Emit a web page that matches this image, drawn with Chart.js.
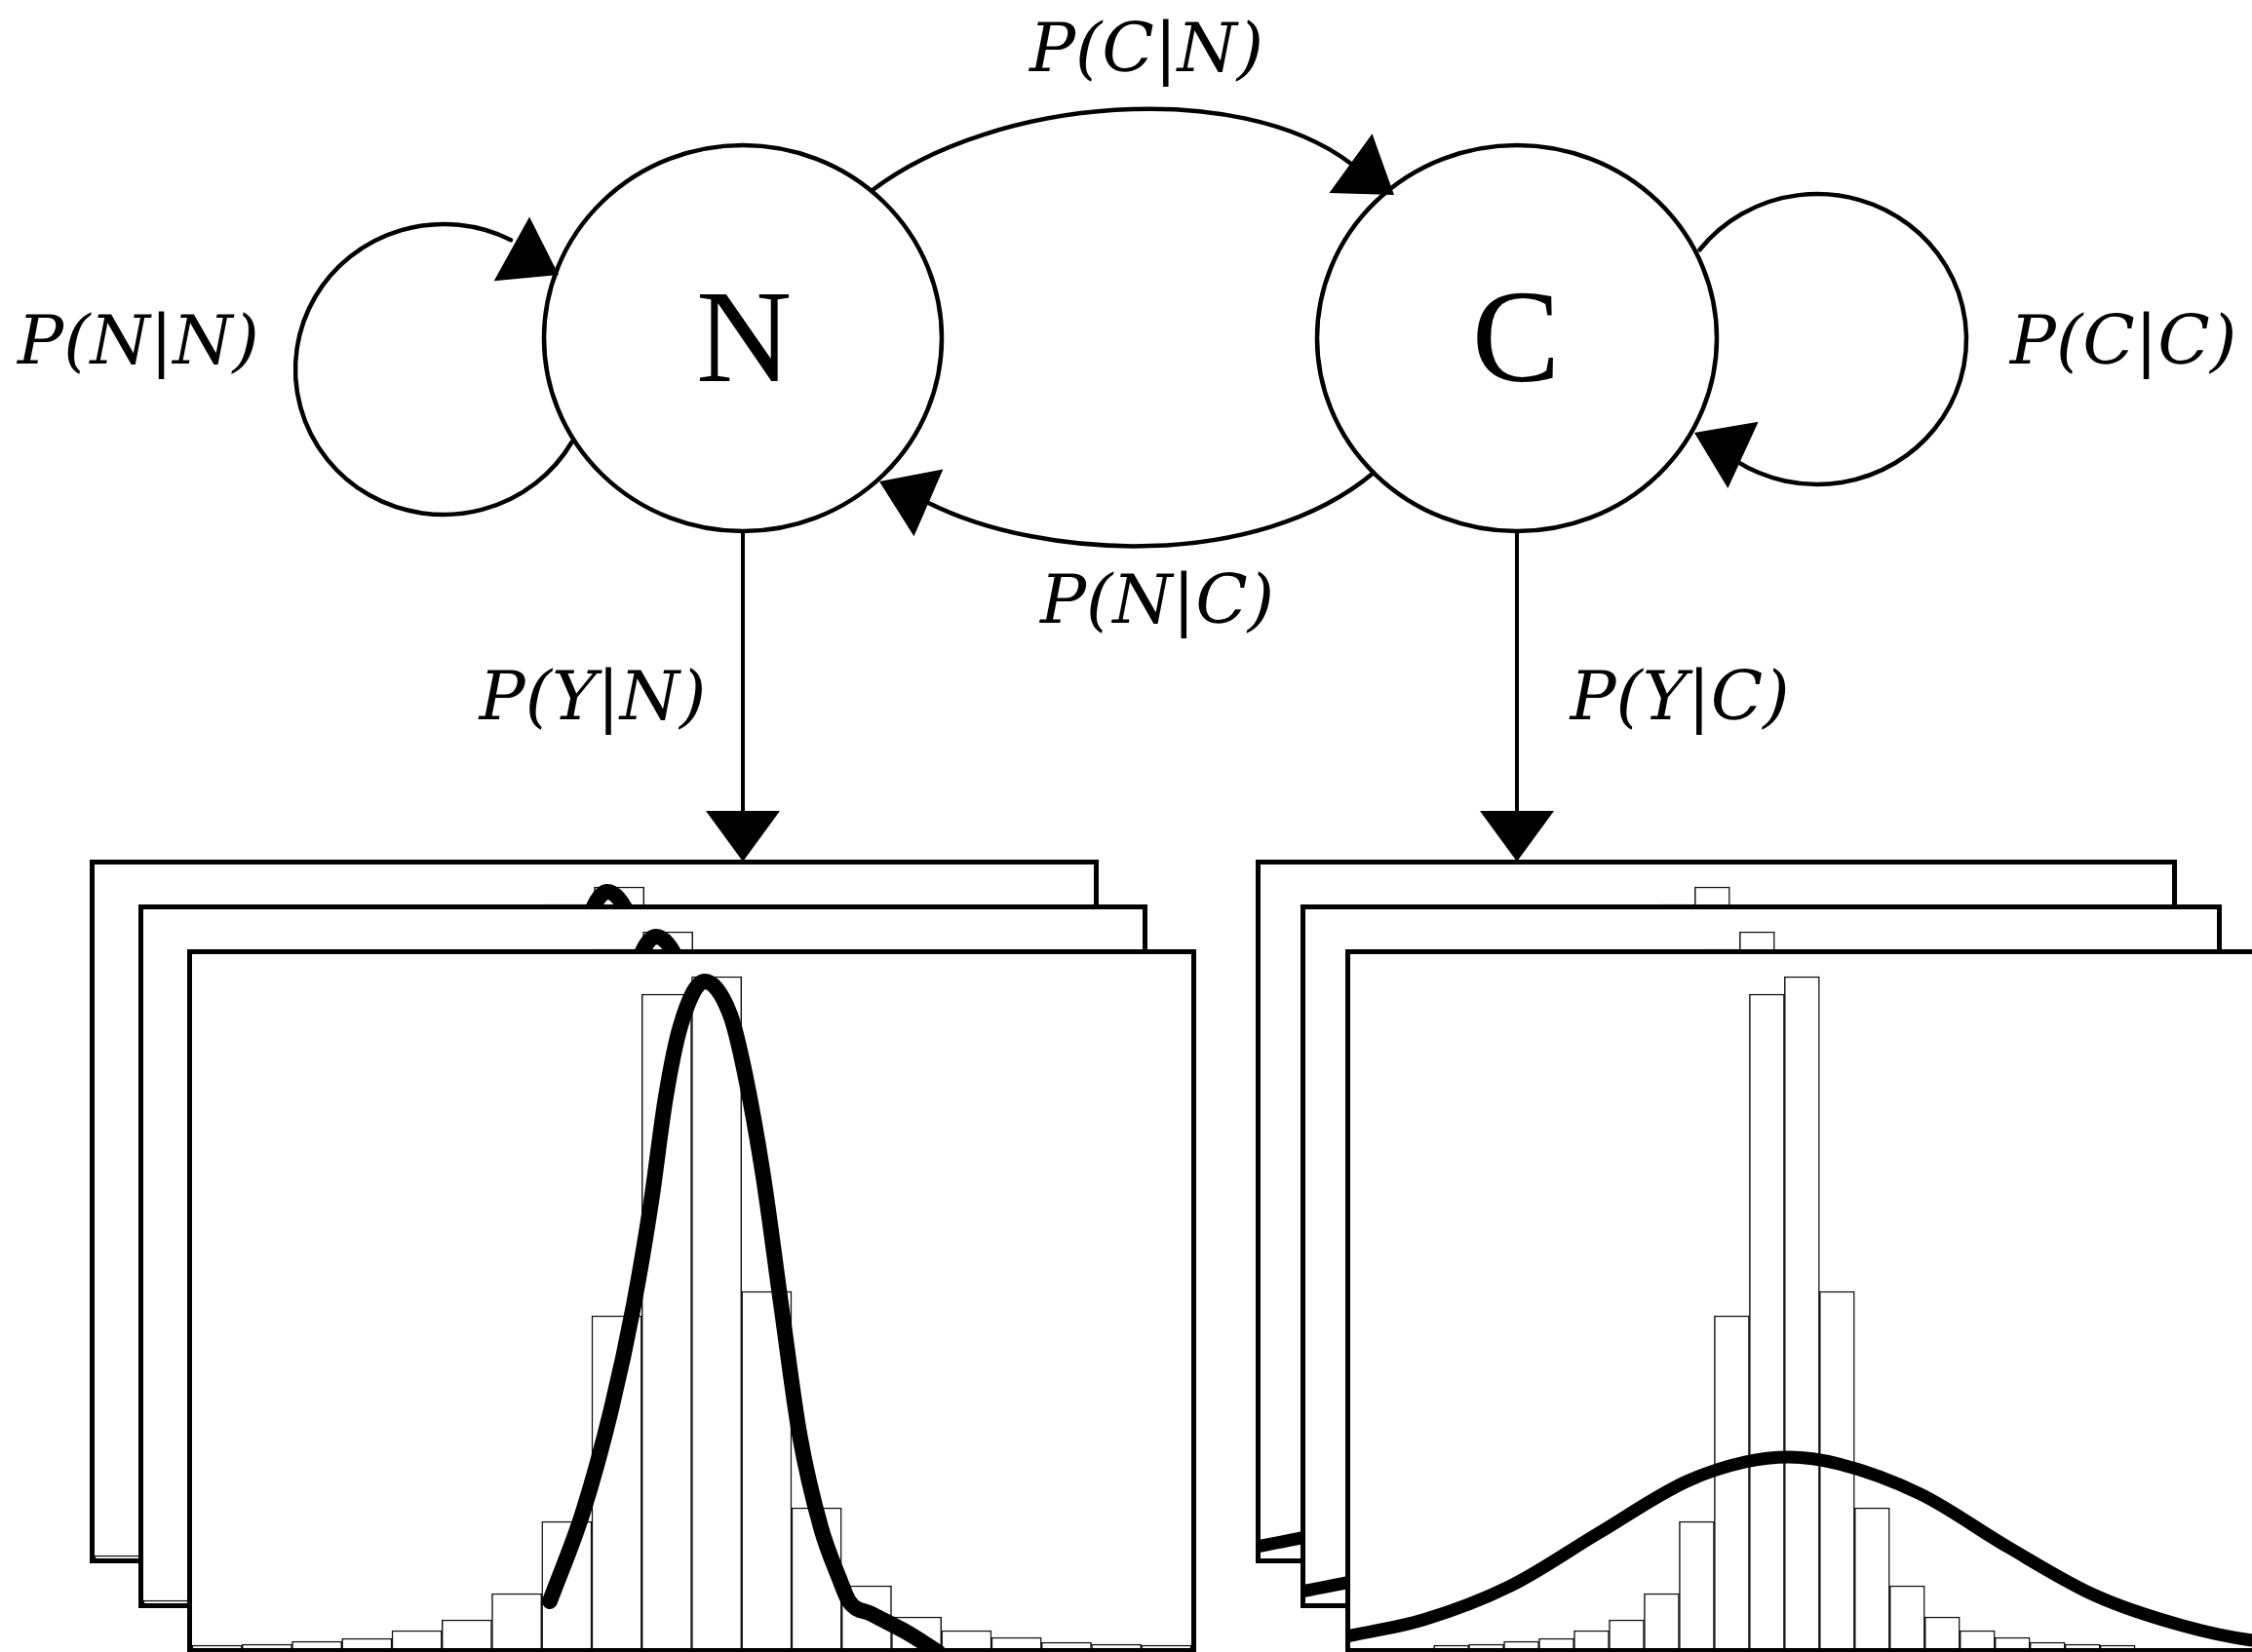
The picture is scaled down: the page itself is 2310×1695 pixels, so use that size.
<!DOCTYPE html>
<html>
<head>
<meta charset="utf-8">
<script src="https://cdn.jsdelivr.net/npm/chart.js@4.4.1/dist/chart.umd.min.js"></script>
<style>
html,body{margin:0;padding:0;background:#fff;overflow:hidden;}
#stage{position:relative;width:2310px;height:1695px;overflow:hidden;background:#fff;}
#diagram{position:absolute;left:0;top:0;}
.panel{position:absolute;box-sizing:border-box;border:5px solid #000;background:#fff;}
.panel canvas{display:block;}
</style>
</head>
<body>
<div id="stage"><canvas id="diagram" width="2310" height="1695"></canvas></div>
<script>
// ---------------- DATA ----------------
// Hidden states and probability labels
const stateLabels = ['N', 'C'];
const transitionLabels = ['P(N|N)', 'P(C|N)', 'P(N|C)', 'P(C|C)'];
const emissionLabels = ['P(Y|N)', 'P(Y|C)'];

// Histogram of observations Y (bin centres, in bin units) and bar heights
const binCenters = [0.5, 1.5, 2.5, 3.5, 4.5, 5.5, 6.5, 7.5, 8.5, 9.5,
                    10.5, 11.5, 12.5, 13.5, 14.5, 15.5, 16.5, 17.5, 18.5, 19.5];
const binCounts  = [3, 4, 7, 10, 18, 29, 56, 130, 341, 671,
                    689, 366, 144, 64, 32, 18, 11, 6, 4, 3];

// Fitted emission density for state N
const fitNX = [7.16, 7.82, 8.39, 8.84, 9.19, 9.48, 9.78, 10.26, 10.77, 11.06, 11.43, 11.79, 12.16, 12.59, 12.95, 13.15, 13.6, 14.31, 14.93];
const fitNY = [48, 139, 245, 352, 458, 565, 639, 684, 650, 591, 485, 352, 219, 123, 72, 48, 35, 16, -4];

// Fitted emission density for state C
const fitCX = [-2.49, -0.30, 2.20, 4.70, 7.21, 8.88, 10.13, 11.55, 13.88, 16.36, 18.86, 21.36, 23.33, 23.8];
const fitCY = [12, 29, 64, 118, 171, 191, 196, 189, 158, 104, 54, 23, 8, 7];

// Axis ranges of the two histogram panels (bin units / height units)
const xRangeN = [0, 20];
const xRangeC = [-2.38, 23.61];
const yMax = 712;

// ---------------- LAYOUT (positions / styles only) ----------------
const layout = {
  nodes: [
    {cx: 762, cy: 347, rx: 204, ry: 198, tx: 763, ty: 391},
    {cx: 1556, cy: 347, rx: 205, ry: 198, tx: 1555, ty: 391}
  ],
  loops: [
    {cx: 455, cy: 379, rx: 152, ry: 149, a0: 30, a1: 297, tip: [573, 282], dir: 29},
    {cx: 1864, cy: 348, rx: 153, ry: 149, a0: 218, a1: 483, tip: [1738, 444], dir: 204.6}
  ],
  arcs: [
    {from: [895, 195], c1: [1020, 100], c2: [1270, 80], tip: [1430, 200], dir: 36},
    {from: [1409, 485], c1: [1290, 585], c2: [1070, 575], tip: [902, 494], dir: 203.5}
  ],
  drops: [
    {x: 762, y0: 545, tip: 884},
    {x: 1556, y0: 545, tip: 884}
  ],
  labelPos: {
    'P(N|N)': [142, 373], 'P(C|N)': [1176, 73], 'P(N|C)': [1187, 639],
    'P(C|C)': [2178, 373], 'P(Y|N)': [608, 738], 'P(Y|C)': [1723, 738]
  },
  arrowLen: 55, arrowWidth: 75,
  panelsN: [[92, 882], [142, 928], [192, 974]],
  panelsC: [[1288, 882], [1334, 928], [1380, 974]],
  panelSizeN: [1035, 722],
  panelSizeC: [945, 722]
};

// ---------------- DIAGRAM (Chart.js canvas + plugin) ----------------
const diagramPlugin = {
  id: 'hmmDiagram',
  afterDraw(chart) {
    const ctx = chart.ctx;
    const xs = chart.scales.x, ys = chart.scales.y;
    const X = v => xs.getPixelForValue(v);
    const Y = v => ys.getPixelForValue(v);
    const SX = d => X(d) - X(0);
    const SY = d => Y(d) - Y(0);
    const rad = d => d * Math.PI / 180;

    function arrowHead(tip, dirDeg, len, wid) {
      const a = rad(dirDeg);
      const tx = X(tip[0]), ty = Y(tip[1]);
      const bx = tx - len * Math.cos(a), by = ty - len * Math.sin(a);
      const px = -Math.sin(a) * wid / 2, py = Math.cos(a) * wid / 2;
      ctx.beginPath();
      ctx.moveTo(tx, ty);
      ctx.lineTo(bx + px, by + py);
      ctx.lineTo(bx - px, by - py);
      ctx.closePath();
      ctx.fill();
      return [bx, by];
    }

    ctx.save();
    ctx.strokeStyle = '#000';
    ctx.fillStyle = '#000';
    ctx.lineWidth = 4.5;
    ctx.lineCap = 'round';

    // state nodes
    layout.nodes.forEach((n, i) => {
      ctx.beginPath();
      ctx.ellipse(X(n.cx), Y(n.cy), SX(n.rx), Math.abs(SY(n.ry)), 0, 0, Math.PI * 2);
      ctx.stroke();
      ctx.font = '136px "Liberation Serif", "Times New Roman", serif';
      ctx.textAlign = 'center';
      ctx.textBaseline = 'alphabetic';
      ctx.fillText(stateLabels[i], X(n.tx), Y(n.ty));
    });

    // self loops
    layout.loops.forEach(l => {
      ctx.beginPath();
      ctx.ellipse(X(l.cx), Y(l.cy), SX(l.rx), Math.abs(SY(l.ry)), 0, rad(l.a0), rad(l.a1), false);
      ctx.stroke();
      arrowHead(l.tip, l.dir, layout.arrowLen, layout.arrowWidth);
    });

    // transitions between states
    layout.arcs.forEach(a => {
      const b = arrowHead(a.tip, a.dir, layout.arrowLen, layout.arrowWidth);
      ctx.beginPath();
      ctx.moveTo(X(a.from[0]), Y(a.from[1]));
      ctx.bezierCurveTo(X(a.c1[0]), Y(a.c1[1]), X(a.c2[0]), Y(a.c2[1]), b[0], b[1]);
      ctx.stroke();
    });

    // emissions
    ctx.lineWidth = 4;
    layout.drops.forEach(d => {
      const b = arrowHead([d.x, d.tip], 90, 52, 76);
      ctx.beginPath();
      ctx.moveTo(X(d.x), Y(d.y0));
      ctx.lineTo(b[0], b[1]);
      ctx.stroke();
    });

    // probability labels
    ctx.font = 'italic 70px "DejaVu Serif", serif';
    ctx.textAlign = 'center';
    ctx.textBaseline = 'alphabetic';
    transitionLabels.concat(emissionLabels).forEach(t => {
      const p = layout.labelPos[t];
      ctx.fillText(t, X(p[0]), Y(p[1]));
    });
    ctx.restore();
  }
};

new Chart(document.getElementById('diagram'), {
  type: 'scatter',
  data: {datasets: []},
  options: {
    responsive: false, animation: false, devicePixelRatio: 1,
    layout: {padding: 0},
    plugins: {legend: {display: false}, tooltip: {enabled: false}},
    scales: {
      x: {type: 'linear', min: 0, max: 2310, display: false, offset: false},
      y: {type: 'linear', min: 0, max: 1695, reverse: true, display: false, offset: false}
    }
  },
  plugins: [diagramPlugin]
});

// ---------------- HISTOGRAM PANELS ----------------
const stage = document.getElementById('stage');
function makePanel(pos, size, fitX, fitY, xRange, lineW) {
  const div = document.createElement('div');
  div.className = 'panel';
  div.style.left = pos[0] + 'px';
  div.style.top = pos[1] + 'px';
  div.style.width = size[0] + 'px';
  div.style.height = size[1] + 'px';
  const cv = document.createElement('canvas');
  cv.width = size[0] - 10;
  cv.height = size[1] - 10;
  div.appendChild(cv);
  stage.appendChild(div);
  new Chart(cv, {
    type: 'bar',
    data: {
      datasets: [
        {
          type: 'line',
          data: fitX.map((x, i) => ({x: x, y: fitY[i]})),
          borderColor: '#000', borderWidth: lineW,
          pointRadius: 0, fill: false,
          cubicInterpolationMode: 'monotone',
          borderCapStyle: 'round', borderJoinStyle: 'round',
          order: 0
        },
        {
          type: 'bar',
          data: binCenters.map((x, i) => ({x: x, y: binCounts[i]})),
          backgroundColor: '#fff', borderColor: '#111', borderWidth: 1.5,
          barPercentage: 1, categoryPercentage: 1,
          order: 1
        }
      ]
    },
    options: {
      responsive: false, animation: false, devicePixelRatio: 1,
      layout: {padding: 0},
      plugins: {legend: {display: false}, tooltip: {enabled: false}},
      scales: {
        x: {type: 'linear', min: xRange[0], max: xRange[1], display: false, offset: false,
            grid: {offset: false}, ticks: {stepSize: 5}},
        y: {type: 'linear', min: 0, max: yMax, display: false}
      }
    }
  });
}

layout.panelsN.forEach(p => makePanel(p, layout.panelSizeN, fitNX, fitNY, xRangeN, 16));
layout.panelsC.forEach(p => makePanel(p, layout.panelSizeC, fitCX, fitCY, xRangeC, 13));
</script>
</body>
</html>
